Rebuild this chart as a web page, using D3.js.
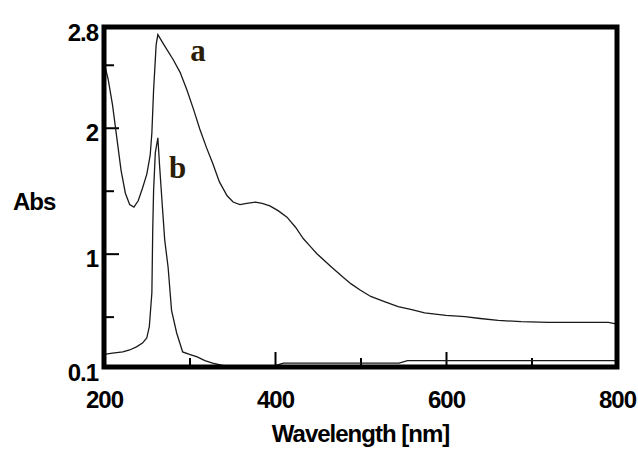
<!DOCTYPE html>
<meta charset="utf-8">
<script src="https://d3js.org/d3.v7.min.js"></script>
<style>

body {
  margin: 0;
  background: #fff;
}

path.curve {
  fill: none;
  stroke: #1a1a1a;
  stroke-width: 1.3px;
}

.axis text {
  fill: #000;
  font: bold 24px "Liberation Sans", Arial, sans-serif;
  letter-spacing: -1px;
}

.axis line {
  stroke: #000;
  stroke-width: 2px;
}

.title {
  fill: #000;
  font: bold 24px "Liberation Sans", Arial, sans-serif;
  letter-spacing: -1px;
}

.tag {
  fill: #2b1d08;
  font: bold 31px "Liberation Serif", "Times New Roman", serif;
}

</style>
<body>
<script>

// spectrum a (wavelength nm, absorbance)
var waveA = [200, 205, 210, 215, 220, 225, 230, 235, 240, 245, 250, 254, 256, 258, 261, 263,
  270, 281, 289, 297, 305, 312, 320, 327, 335, 344, 351, 359, 367, 377, 385, 394, 404, 414,
  424, 433, 441, 449, 465, 480, 489, 500, 512, 528, 544, 560, 575, 600, 622, 640, 661, 688,
  720, 760, 790, 800];
var absA = [2.52, 2.38, 2.18, 1.92, 1.66, 1.48, 1.39, 1.37, 1.42, 1.52, 1.63, 1.78, 1.96, 2.30, 2.66, 2.74,
  2.66, 2.54, 2.44, 2.30, 2.14, 1.99, 1.84, 1.72, 1.57, 1.46, 1.41, 1.39, 1.40, 1.41, 1.40, 1.38, 1.34, 1.29,
  1.21, 1.12, 1.06, 1.00, 0.90, 0.81, 0.76, 0.71, 0.66, 0.62, 0.58, 0.555, 0.53, 0.51, 0.50, 0.485, 0.47, 0.46,
  0.455, 0.455, 0.455, 0.44];

// spectrum b
var waveB = [200, 210, 222, 230, 238, 245, 250, 253, 255, 256, 257, 258, 260, 263, 265, 268, 271,
  275, 279, 285, 292, 300, 309, 318, 327, 340, 400, 410, 545, 555, 800];
var absB = [0.20, 0.21, 0.22, 0.235, 0.26, 0.29, 0.33, 0.42, 0.60, 0.69, 1.19, 1.50, 1.80, 1.92, 1.70, 1.40, 1.11,
  0.89, 0.55, 0.37, 0.22, 0.20, 0.18, 0.15, 0.13, 0.11, 0.11, 0.13, 0.13, 0.15, 0.15];

var xLabels = [200, 400, 600, 800];
var xMinor = [300, 500, 700];
var yLabels = [0.1, 1, 2, 2.8];
var yMinor = [0.5, 1.5, 2.5];

var margin = {top: 27, right: 21, bottom: 82, left: 104};
var width = 638 - margin.left - margin.right;
var height = 449 - margin.top - margin.bottom;

var svg = d3.select("body").append("svg")
    .attr("width", 638)
    .attr("height", 449);

var g = svg.append("g")
    .attr("transform", "translate(" + margin.left + "," + margin.top + ")");

var x = d3.scaleLinear().domain([200, 800]).range([0, width]);
var y = d3.scaleLinear().domain([0.1, 2.8]).range([height, 0]);

// ticks point inward
g.append("g")
    .attr("class", "axis")
    .attr("transform", "translate(0," + height + ")")
    .call(d3.axisBottom(x).tickValues(xLabels).tickSize(-15).tickPadding(24).tickFormat(d3.format("d")))
    .call(function(a) { a.select(".domain").remove(); });

g.append("g")
    .attr("class", "axis")
    .attr("transform", "translate(0," + height + ")")
    .call(d3.axisBottom(x).tickValues(xMinor).tickSize(-9).tickFormat(""))
    .call(function(a) { a.select(".domain").remove(); });

g.append("g")
    .attr("class", "axis")
    .call(d3.axisLeft(y).tickValues(yLabels).tickSize(-15).tickPadding(6).tickFormat(function(d) { return d; }))
    .call(function(a) {
        a.select(".domain").remove();
        a.selectAll("text").attr("dy", "0.55em");
    });

g.append("g")
    .attr("class", "axis")
    .call(d3.axisLeft(y).tickValues(yMinor).tickSize(-10).tickFormat(""))
    .call(function(a) { a.select(".domain").remove(); });

var line = d3.line()
    .x(function(d) { return x(d[0]); })
    .y(function(d) { return y(d[1]); });

g.append("path")
    .attr("class", "curve")
    .attr("d", line(d3.zip(waveA, absA)));

g.append("path")
    .attr("class", "curve")
    .attr("d", line(d3.zip(waveB, absB)));

// heavy frame
g.append("rect")
    .attr("width", width)
    .attr("height", height)
    .attr("fill", "none")
    .attr("stroke", "#000")
    .attr("stroke-width", 5);

// curve tags
g.append("text").attr("class", "tag")
    .attr("x", x(301)).attr("y", y(2.53))
    .text("a");
g.append("text").attr("class", "tag")
    .attr("x", x(276)).attr("y", y(1.60))
    .text("b");

g.append("text")
    .attr("class", "title")
    .attr("x", width / 2)
    .attr("y", height + 75)
    .attr("text-anchor", "middle")
    .text("Wavelength [nm]");

g.append("text")
    .attr("class", "title")
    .attr("x", -91)
    .attr("y", y(1.35))
    .text("Abs");

</script>
</body>
</html>
